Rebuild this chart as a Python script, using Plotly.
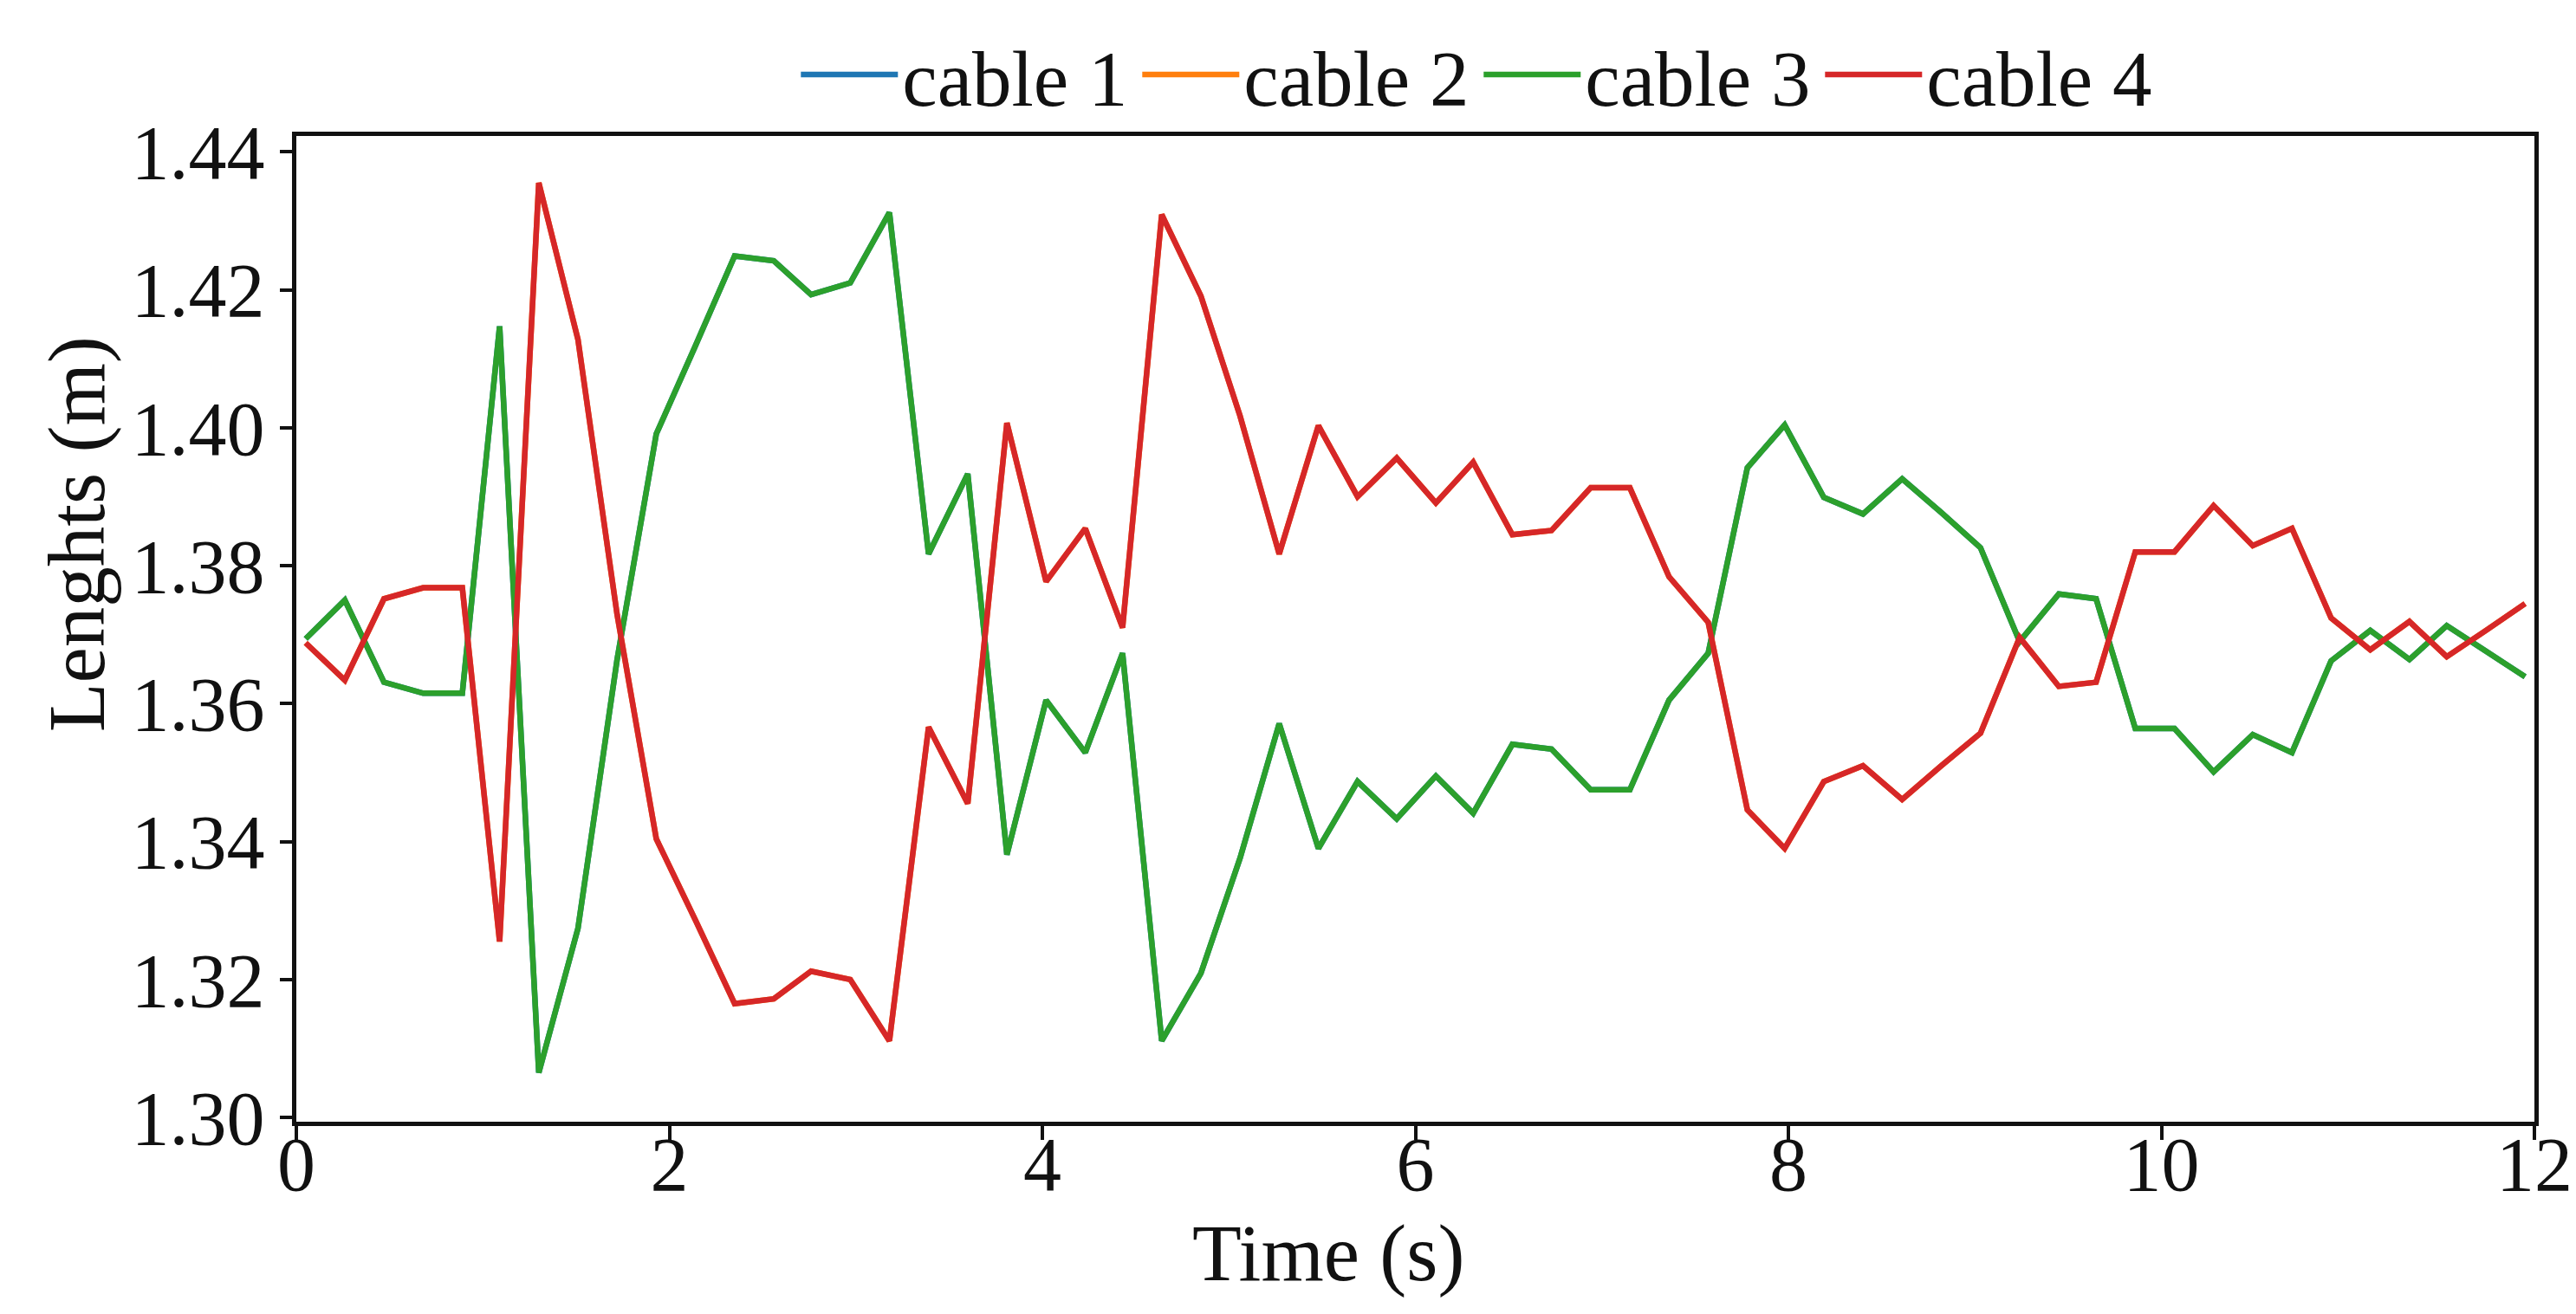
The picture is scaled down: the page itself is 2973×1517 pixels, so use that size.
import plotly.graph_objects as go

# ---- data ----
time_s = [0.05, 0.26, 0.47, 0.68, 0.89, 1.09, 1.30, 1.51, 1.72, 1.93,
          2.14, 2.35, 2.56, 2.76, 2.97, 3.18, 3.39, 3.60, 3.81, 4.02,
          4.23, 4.43, 4.64, 4.85, 5.06, 5.27, 5.48, 5.69, 5.90, 6.11,
          6.31, 6.52, 6.73, 6.94, 7.15, 7.36, 7.57, 7.78, 7.98, 8.19,
          8.40, 8.61, 8.82, 9.03, 9.24, 9.45, 9.65, 9.86, 10.07, 10.28,
          10.49, 10.70, 10.91, 11.12, 11.33, 11.53, 11.74, 11.95]

cable3 = [1.3694, 1.3750, 1.3631, 1.3615, 1.3615, 1.4147, 1.3065, 1.3274, 1.3664, 1.3991,
          1.4119, 1.4249, 1.4242, 1.4193, 1.4210, 1.4312, 1.3817, 1.3933, 1.3381, 1.3605,
          1.3529, 1.3673, 1.3111, 1.3209, 1.3376, 1.3571, 1.3390, 1.3487, 1.3433, 1.3495,
          1.3441, 1.3541, 1.3534, 1.3475, 1.3475, 1.3605, 1.3673, 1.3942, 1.4004, 1.3899,
          1.3875, 1.3926, 1.3877, 1.3826, 1.3690, 1.3759, 1.3752, 1.3564, 1.3564, 1.3501,
          1.3555, 1.3529, 1.3662, 1.3706, 1.3664, 1.3713, 1.3676, 1.3639]

cable4 = [1.3688, 1.3634, 1.3752, 1.3768, 1.3768, 1.3255, 1.4355, 1.4128, 1.3729, 1.3404,
          1.3286, 1.3165, 1.3172, 1.3212, 1.3200, 1.3111, 1.3566, 1.3455, 1.4007, 1.3777,
          1.3854, 1.3710, 1.4309, 1.4191, 1.4017, 1.3817, 1.4003, 1.3900, 1.3956, 1.3891,
          1.3950, 1.3845, 1.3851, 1.3913, 1.3913, 1.3784, 1.3718, 1.3446, 1.3390, 1.3487,
          1.3510, 1.3461, 1.3510, 1.3557, 1.3696, 1.3625, 1.3631, 1.3820, 1.3820, 1.3887,
          1.3829, 1.3854, 1.3724, 1.3678, 1.3719, 1.3668, 1.3706, 1.3745]

# cables 1 and 2 coincide with cables 3 and 4 and are hidden beneath them
cable1 = cable3
cable2 = cable4

series_names = ["cable 1", "cable 2", "cable 3", "cable 4"]
series_values = [cable1, cable2, cable3, cable4]
series_colors = ["#1f77b4", "#ff7f0e", "#2ca02c", "#d62728"]

x_ticks = [0, 2, 4, 6, 8, 10, 12]
y_ticks = [1.30, 1.32, 1.34, 1.36, 1.38, 1.40, 1.42, 1.44]

FONT = "Liberation Serif, Times New Roman, serif"
FS = 88      # tick labels
FS_T = 93    # axis titles
FS_L = 91    # legend

fig = go.Figure()
for name, vals, col in zip(series_names, series_values, series_colors):
    fig.add_trace(go.Scatter(x=time_s, y=vals, mode="lines", name=name,
                             line=dict(color=col, width=6.5)))

axis_common = dict(showgrid=False, zeroline=False, showline=True, linecolor="#111111",
                   linewidth=5, mirror=True, ticks="outside", tickwidth=3.5,
                   tickcolor="#111111", tickfont=dict(family=FONT, size=FS, color="#111111"))

fig.update_xaxes(range=[0, 12], tickvals=x_ticks, ticklen=16, ticklabelstandoff=-48,
                 ticklabeloverflow="allow", **axis_common)
fig.update_yaxes(range=[1.29938, 1.4423], tickvals=y_ticks, tickformat=".2f", ticklen=14,
                 **axis_common)

fig.update_layout(
    width=2973, height=1517,
    margin=dict(l=334, r=42, t=139, b=230),
    paper_bgcolor="white", plot_bgcolor="white",
    font=dict(family=FONT, size=FS, color="#111111"),
    showlegend=True,
    legend=dict(orientation="h", x=0.2235, xanchor="left", y=1.062, yanchor="middle",
                font=dict(family=FONT, size=FS_L, color="#111111"),
                itemwidth=112, entrywidth=267, entrywidthmode="pixels",
                bgcolor="rgba(0,0,0,0)", borderwidth=0, tracegroupgap=0),
    annotations=[
        dict(text="Lenghts (m)", xref="paper", yref="paper", x=-0.0978, y=0.5958,
             xanchor="center", yanchor="middle", textangle=-90, showarrow=False,
             font=dict(family=FONT, size=FS_T, color="#111111")),
        dict(text="Time (s)", xref="paper", yref="paper", x=0.4609, y=-0.1333,
             xanchor="center", yanchor="middle", showarrow=False,
             font=dict(family=FONT, size=FS_T, color="#111111")),
    ],
)

fig.write_html("out.html")
